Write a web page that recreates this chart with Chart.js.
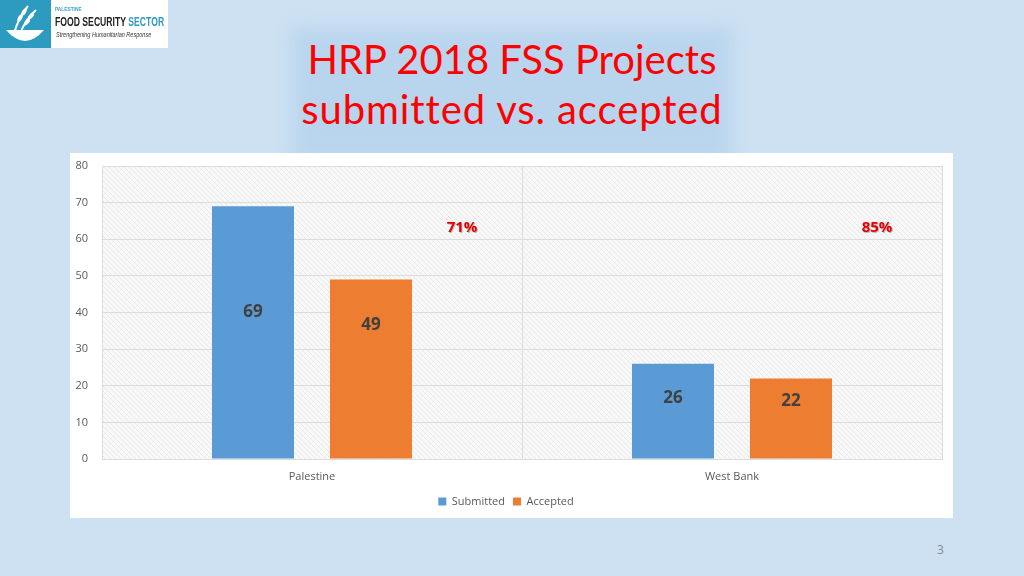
<!DOCTYPE html>
<html>
<head>
<meta charset="utf-8">
<script src="https://cdn.jsdelivr.net/npm/chart.js@4/dist/chart.umd.min.js"></script>
<style>
  html, body { margin:0; padding:0; }
  body { width:1024px; height:576px; background:#cde1f2; position:relative; overflow:hidden; font-family: Lato, "Open Sans", sans-serif; }
  #glow { position:absolute; left:292px; top:28px; width:440px; height:135px; background:#b9d5ee; filter:blur(9px); }
  #title { position:absolute; left:0; width:1024px; top:34px; text-align:center; color:#ff0000;
    font-family: Lato, sans-serif; font-size:40px; line-height:50px; font-variant-ligatures:none; }
  #title .l2 { letter-spacing:0.9px; }
  #logo { position:absolute; left:0; top:0; width:168px; height:48px; background:#fff; }
  #logo .sq { position:absolute; left:0; top:0; width:51px; height:48px; background:#2d9ac0; }
  #logo div.tx { position:absolute; white-space:nowrap; transform-origin:0 0; }
  #logo .t1 { left:55px; top:6px; font-size:6px; font-weight:bold; color:#3aa0c4; font-family:"Liberation Sans",sans-serif; transform:scaleX(0.8); }
  #logo .t2 { left:55px; top:15px; font-size:12px; font-weight:bold; color:#222; font-family:"Liberation Sans",sans-serif; transform:scaleX(0.72); }
  #logo .t2 span { color:#2d9ac0; }
  #logo .t3 { left:56px; top:31px; font-size:6.5px; font-style:italic; color:#333; font-family:"Liberation Sans",sans-serif; transform:scaleX(0.85); }
  #panel { position:absolute; left:70px; top:153px; width:883px; height:365px; background:#fff; }
  #page { position:absolute; left:937px; top:541px; font-size:12px; color:#8a8a8a; font-family:"Open Sans",sans-serif; }
</style>
</head>
<body>
<div id="glow"></div>
<div id="title">HRP 2018 FSS Projects<br><span class="l2">submitted vs. accepted</span></div>
<div id="logo">
  <div class="sq">
    <svg width="51" height="48" viewBox="0 0 51 48">
      <path d="M6 30 Q25 52 44 30 Z" fill="#fff"/>
      <path d="M14 34 Q18 18 28 6" stroke="#fff" stroke-width="2" fill="none"/>
      <path d="M20 34 Q25 20 36 10" stroke="#fff" stroke-width="2" fill="none"/>
      <ellipse cx="24" cy="12" rx="2" ry="4" fill="#fff" transform="rotate(30 24 12)"/>
      <ellipse cx="20" cy="18" rx="2" ry="4" fill="#fff" transform="rotate(30 20 18)"/>
      <ellipse cx="31" cy="16" rx="2" ry="4" fill="#fff" transform="rotate(40 31 16)"/>
      <ellipse cx="27" cy="22" rx="2" ry="4" fill="#fff" transform="rotate(40 27 22)"/>
    </svg>
  </div>
  <div class="tx t1">PALESTINE</div>
  <div class="tx t2">FOOD SECURITY <span>SECTOR</span></div>
  <div class="tx t3">Strengthening Humanitarian Response</div>
</div>
<div id="panel"><canvas id="c" width="883" height="365"></canvas></div>
<div id="page">3</div>
<script>
const categories = ["Palestine", "West Bank"];
const submitted = [69, 26];
const accepted = [49, 22];
const acceptanceRate = ["71%", "85%"];
const yTicks = [0, 10, 20, 30, 40, 50, 60, 70, 80];

function makeHatch(ctx) {
  const p = document.createElement('canvas');
  p.width = 5; p.height = 5;
  const g = p.getContext('2d');
  g.fillStyle = '#f8f8f8'; g.fillRect(0,0,5,5);
  g.strokeStyle = '#e9e9e9'; g.lineWidth = 1;
  g.beginPath(); g.moveTo(0,0); g.lineTo(5,5); g.moveTo(-3,2); g.lineTo(3,8); g.moveTo(2,-3); g.lineTo(8,3); g.stroke();
  return ctx.createPattern(p, 'repeat');
}

const hatchPlugin = {
  id: 'hatch',
  beforeDraw(chart) {
    const {ctx, chartArea:a} = chart;
    ctx.save();
    ctx.fillStyle = makeHatch(ctx);
    ctx.fillRect(a.left, a.top, a.right - a.left, a.bottom - a.top);
    ctx.restore();
  }
};

const labelPlugin = {
  id: 'labels',
  afterDatasetsDraw(chart, args, opts) {
    const {ctx} = chart;
    const ys = chart.scales.y, xs = chart.scales.x;
    ctx.save();
    ctx.textAlign = 'center'; ctx.textBaseline = 'middle';
    ctx.font = 'bold 17px "Open Sans", sans-serif';
    ctx.fillStyle = '#404040';
    chart.data.datasets.forEach((ds, di) => {
      const meta = chart.getDatasetMeta(di);
      meta.data.forEach((bar, i) => {
        const ly = ys.getPixelForValue(opts.labelAt[di][i]);
        ctx.fillText(String(ds.data[i]), bar.x, ly);
      });
    });
    ctx.font = 'bold 15px "Open Sans", sans-serif';
    acceptanceRate.forEach((t, i) => {
      const x = xs.getPixelForValue(i) + opts.rateOffset[i];
      const y = ys.getPixelForValue(opts.rateAt);
      ctx.fillStyle = 'rgba(0,0,0,0.25)';
      ctx.fillText(t, x + 1, y + 1);
      ctx.fillStyle = '#e60000';
      ctx.fillText(t, x, y);
    });
    ctx.restore();
  }
};

new Chart(document.getElementById('c'), {
  type: 'bar',
  data: {
    labels: categories,
    datasets: [
      { label: 'Submitted', data: submitted, backgroundColor: '#5b9bd5' },
      { label: 'Accepted', data: accepted, backgroundColor: '#ed7d31' }
    ]
  },
  options: {
    responsive: false,
    animation: false,
    devicePixelRatio: 1,
    layout: { padding: { top: 13, right: 11, left: 0, bottom: 1 } },
    datasets: { bar: { categoryPercentage: 0.562, barPercentage: 0.695 } },
    scales: {
      x: {
        grid: { color: '#dcdcdc', drawTicks: false, offset: true },
        border: { color: '#dcdcdc' },
        ticks: { color: '#595959', font: { size: 11, family: '"Open Sans", sans-serif' }, padding: 11 },
        afterFit(s) { s.height = 29; }
      },
      y: {
        min: 0, max: 80,
        afterBuildTicks(s) { s.ticks = yTicks.map(v => ({ value: v })); },
        grid: { color: '#dcdcdc', drawTicks: false },
        border: { color: '#dcdcdc' },
        ticks: { color: '#595959', font: { size: 11, family: '"Open Sans", sans-serif' }, padding: 14 },
        afterFit(s) { s.width = 32; s.paddingTop = 0; s.paddingBottom = 0; }
      }
    },
    plugins: {
      legend: {
        position: 'bottom',
        labels: { boxWidth: 8, boxHeight: 8, padding: 8, color: '#595959', font: { size: 11, family: '"Open Sans", sans-serif' } }
      },
      tooltip: { enabled: false },
      labels: { labelAt: [[40.1, 16.5], [36.6, 15.8]], rateOffset: [150, 145], rateAt: 63.1 }
    }
  },
  plugins: [hatchPlugin, labelPlugin]
});
</script>
</body>
</html>
